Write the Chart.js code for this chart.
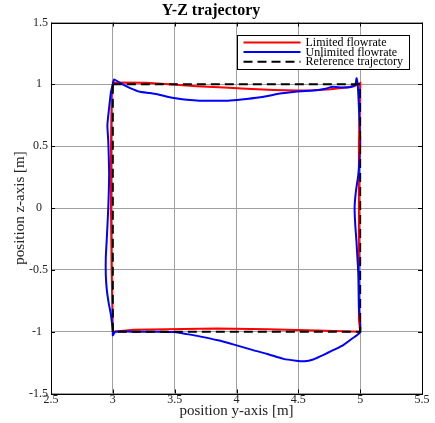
<!DOCTYPE html>
<html>
<head>
<meta charset="utf-8">
<script src="https://cdn.jsdelivr.net/npm/chart.js@4"></script>
<style>
  html, body { margin: 0; padding: 0; background: #fff; }
  #wrap { width: 435px; height: 423px; }
</style>
</head>
<body>
<div id="wrap"><canvas id="trajChart"></canvas></div>
<script>
// Tick positions
const xTicks = [2.5, 3, 3.5, 4, 4.5, 5, 5.5];
const yTicks = [-1.5, -1, -0.5, 0, 0.5, 1, 1.5];

// Reference trajectory (square)
const refY = [3, 5, 5, 3, 3];
const refZ = [1, 1, -1, -1, 1];

// Limited flowrate
const limitedY = [3.00, 3.00, 3.27, 3.45, 3.68, 3.90, 4.08, 4.30, 4.49, 4.62, 4.76, 4.88, 4.95, 5.00,
  4.99, 4.99, 4.99, 4.99, 5.00,
  4.65, 4.25, 3.84, 3.44, 3.17, 3.00,
  2.99, 2.985, 2.985, 2.99, 3.00];
const limitedZ = [1.00, 1.015, 1.013, 1.00, 0.985, 0.975, 0.965, 0.955, 0.95, 0.952, 0.96, 0.975, 0.985, 1.01,
  0.5, 0, -0.5, -0.9, -1.00,
  -0.99, -0.98, -0.975, -0.98, -0.985, -1.00,
  -0.5, 0, 0.5, 0.9, 1.00];

// Unlimited flowrate
const unlimitedY = [3.00, 3.01, 3.06, 3.14, 3.22, 3.30, 3.36, 3.44, 3.52, 3.60, 3.70, 3.82, 3.95, 4.08, 4.22,
  4.35, 4.49, 4.62, 4.72, 4.78, 4.85, 4.90, 4.96, 4.97, 4.98,
  4.99, 5.00, 4.995, 4.985, 4.965, 4.955, 4.96, 4.97, 4.985, 4.99, 5.00,
  4.93, 4.86, 4.78, 4.70, 4.62, 4.55, 4.48, 4.38, 4.25, 4.12, 3.98, 3.85, 3.71, 3.60, 3.50, 3.35, 3.15, 3.02, 3.00, 3.00,
  2.984, 2.964, 2.95, 2.943, 2.943, 2.95, 2.963, 2.97, 2.963, 2.956, 2.97, 2.985, 3.00];
const unlimitedZ = [1.00, 1.04, 1.01, 0.97, 0.94, 0.93, 0.92, 0.90, 0.885, 0.875, 0.868, 0.867, 0.87, 0.882, 0.90,
  0.925, 0.943, 0.95, 0.965, 0.98, 0.975, 0.975, 0.995, 1.05, 1.00,
  0.81, 0.54, 0.40, 0.27, 0.13, 0, -0.13, -0.27, -0.54, -0.81, -1.00,
  -1.06, -1.11, -1.15, -1.19, -1.225, -1.24, -1.235, -1.22, -1.18, -1.145, -1.105, -1.07, -1.04, -1.02, -1.003, -1.00, -1.00, -1.00, -1.03, -1.00,
  -0.86, -0.755, -0.65, -0.54, -0.40, -0.27, 0, 0.27, 0.54, 0.67, 0.81, 0.94, 1.00];

const toPoints = (xs, ys) => xs.map((x, i) => ({x: x, y: ys[i]}));

const serif = '"Liberation Serif", "Times New Roman", serif';

// Рамка, засечки и легенда в стиле MATLAB
const boxAndLegend = {
  id: 'boxAndLegend',
  afterDraw(chart) {
    const {ctx, chartArea: a, scales: {x, y}} = chart;
    ctx.save();
    ctx.strokeStyle = '#000';
    ctx.lineWidth = 1;
    ctx.beginPath();
    xTicks.forEach(v => {
      const px = Math.round(x.getPixelForValue(v)) + 0.5;
      ctx.moveTo(px, a.bottom); ctx.lineTo(px, a.bottom - 4);
      ctx.moveTo(px, a.top); ctx.lineTo(px, a.top + 4);
    });
    yTicks.forEach(v => {
      const py = Math.round(y.getPixelForValue(v)) + 0.5;
      ctx.moveTo(a.left, py); ctx.lineTo(a.left + 4, py);
      ctx.moveTo(a.right, py); ctx.lineTo(a.right - 4, py);
    });
    ctx.stroke();
    ctx.strokeRect(Math.round(a.left) + 0.5, Math.round(a.top) + 0.5,
      Math.round(a.right - a.left), Math.round(a.bottom - a.top));

    // legend box
    const bx = Math.round(a.right) - 184.5, by = Math.round(a.top) + 12.5;
    const bw = 172, bh = 34;
    ctx.fillStyle = '#fff';
    ctx.fillRect(bx, by, bw, bh);
    ctx.strokeRect(bx, by, bw, bh);
    ctx.font = '12px ' + serif;
    ctx.textBaseline = 'middle';
    ctx.textAlign = 'left';
    chart.data.datasets.forEach((ds, i) => {
      const ry = by + 7 + i * 9.6;
      ctx.strokeStyle = ds.borderColor;
      ctx.lineWidth = 2;
      ctx.setLineDash(ds.borderDash || []);
      ctx.beginPath();
      ctx.moveTo(bx + 6, ry);
      ctx.lineTo(bx + 63, ry);
      ctx.stroke();
      ctx.setLineDash([]);
      ctx.fillStyle = '#000';
      ctx.fillText(ds.label, bx + 68, ry + 0.5);
    });
    ctx.restore();
  }
};

const ctx = document.getElementById('trajChart').getContext('2d');
new Chart(ctx, {
  type: 'scatter',
  data: {
    datasets: [
      {
        label: 'Limited flowrate',
        data: toPoints(limitedY, limitedZ),
        showLine: true,
        borderColor: '#ff0000',
        borderWidth: 2,
        pointRadius: 0,
        order: 3
      },
      {
        label: 'Unlimited flowrate',
        data: toPoints(unlimitedY, unlimitedZ),
        showLine: true,
        borderColor: '#0000ff',
        borderWidth: 2,
        pointRadius: 0,
        tension: 0.2,
        order: 2
      },
      {
        label: 'Reference trajectory',
        data: toPoints(refY, refZ),
        showLine: true,
        borderColor: '#000000',
        borderWidth: 2,
        borderDash: [9, 5],
        pointRadius: 0,
        order: 1
      }
    ]
  },
  options: {
    responsive: true,
    maintainAspectRatio: false,
    animation: false,
    layout: { padding: { left: 0, right: 13, top: 0, bottom: 0 } },
    plugins: {
      legend: { display: false },
      tooltip: { enabled: false },
      title: {
        display: true,
        text: 'Y-Z trajectory',
        color: '#000',
        font: { family: serif, size: 16, weight: 'bold' },
        padding: { top: 1, bottom: 2.3 }
      }
    },
    scales: {
      x: {
        type: 'linear',
        min: 2.5,
        max: 5.5,
        afterBuildTicks: s => { s.ticks = xTicks.map(v => ({value: v})); },
        afterFit: s => { s.height = 29.5; },
        grid: { color: '#a0a0a0', lineWidth: 1, drawTicks: false },
        border: { display: false },
        ticks: {
          autoSkip: false,
          maxRotation: 0,
          padding: -1,
          color: '#222',
          font: { family: serif, size: 12 },
          callback: v => String(v)
        },
        title: {
          display: true,
          text: 'position y-axis [m]',
          color: '#222',
          font: { family: serif, size: 15 },
          padding: { top: 0, bottom: 3 }
        }
      },
      y: {
        type: 'linear',
        min: -1.5,
        max: 1.5,
        afterBuildTicks: s => { s.ticks = yTicks.map(v => ({value: v})); },
        afterFit: s => { s.width = 51; },
        grid: { color: '#a0a0a0', lineWidth: 1, drawTicks: false },
        border: { display: false },
        ticks: {
          autoSkip: false,
          padding: 3,
          color: '#222',
          font: { family: serif, size: 12 },
          callback: v => Number.isInteger(v) ? v + '\u2002' : String(v)
        },
        title: {
          display: true,
          text: 'position z-axis [m]',
          color: '#222',
          font: { family: serif, size: 15 },
          padding: { top: 11, bottom: 0 }
        }
      }
    }
  },
  plugins: [boxAndLegend]
});
</script>
</body>
</html>
